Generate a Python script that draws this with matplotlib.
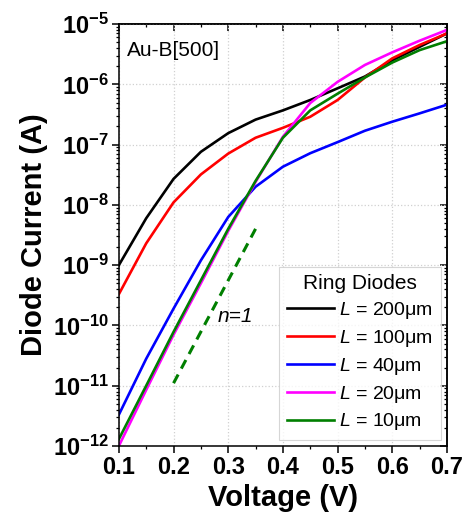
import numpy as np
import matplotlib
matplotlib.use('Agg')
import matplotlib.pyplot as plt
from matplotlib.ticker import FixedLocator, FixedFormatter, LogLocator, MultipleLocator, NullFormatter

plt.rcParams['font.family'] = ['Liberation Sans', 'DejaVu Sans']
plt.rcParams['mathtext.fontset'] = 'custom'
plt.rcParams['mathtext.rm'] = 'Liberation Sans'
plt.rcParams['mathtext.it'] = 'Liberation Sans:italic'
plt.rcParams['mathtext.bf'] = 'Liberation Sans:bold'

# Daten
voltage = [0.10, 0.15, 0.20, 0.25, 0.30, 0.35, 0.40, 0.45, 0.50, 0.55, 0.60, 0.65, 0.70]
i_200 = [1.0e-9, 6.0e-9, 2.7e-8, 7.6e-8, 1.55e-7, 2.6e-7, 3.7e-7, 5.5e-7, 8.6e-7, 1.35e-6, 2.5e-6, 4.2e-6, 7.0e-6]
i_100 = [3.3e-10, 2.3e-9, 1.1e-8, 3.2e-8, 7.1e-8, 1.3e-7, 1.9e-7, 2.9e-7, 5.5e-7, 1.3e-6, 2.7e-6, 4.5e-6, 7.0e-6]
i_40 = [3.3e-12, 2.8e-11, 1.9e-10, 1.2e-9, 6.3e-9, 2.0e-8, 4.3e-8, 7.2e-8, 1.1e-7, 1.7e-7, 2.4e-7, 3.3e-7, 4.6e-7]
i_20 = [1.0e-12, 8.5e-12, 7.0e-11, 5.0e-10, 3.7e-9, 2.4e-8, 1.35e-7, 4.9e-7, 1.1e-6, 2.1e-6, 3.4e-6, 5.3e-6, 8.0e-6]
i_10 = [1.3e-12, 1.0e-11, 7.8e-11, 5.6e-10, 4.0e-9, 2.5e-8, 1.3e-7, 3.7e-7, 7.0e-7, 1.3e-6, 2.3e-6, 3.7e-6, 5.2e-6]

labels = ['200', '100', '40', '20', '10']
colors = ['black', '#ff0000', '#0000ff', '#ff00ff', '#007f00']

# ideale Diode n=1
ideal_v = [0.20, 0.35]
ideal_i = [1.1e-11, 4.0e-9]

y_ticks = [1e-12, 1e-11, 1e-10, 1e-9, 1e-8, 1e-7, 1e-6, 1e-5]
y_ticklabels = [r'$\mathbf{10^{-%d}}$' % k for k in range(12, 4, -1)]
x_ticks = [0.1, 0.2, 0.3, 0.4, 0.5, 0.6, 0.7]

fig = plt.figure(figsize=(4.68, 5.24), dpi=100)
ax = fig.add_axes([0.254, 0.149, 0.701, 0.805])

for cur, lab, col in zip([i_200, i_100, i_40, i_20, i_10], labels, colors):
    ax.plot(voltage, cur, color=col, lw=1.9, label=r'$\it{L}$ = ' + lab + 'μm')

ax.plot(ideal_v, ideal_i, color='#007f00', lw=2.2, ls=(0, (3.2, 2.2)))
ax.text(0.28, 1.4e-10, 'n=1', style='italic', fontsize=15, va='center', ha='left')
ax.text(0.115, 3.6e-6, 'Au-B[500]', fontsize=15, va='center', ha='left')

ax.set_yscale('log')
ax.set_xlim(0.1, 0.7)
ax.set_ylim(1e-12, 1e-5)

ax.xaxis.set_major_locator(FixedLocator(x_ticks))
ax.xaxis.set_minor_locator(MultipleLocator(0.05))
ax.set_xticklabels(['%.1f' % v for v in x_ticks], fontsize=17, fontweight='bold')
ax.yaxis.set_major_locator(FixedLocator(y_ticks))
ax.yaxis.set_major_formatter(FixedFormatter(y_ticklabels))
ax.yaxis.set_minor_locator(LogLocator(base=10, subs=np.arange(2, 10), numticks=20))
ax.yaxis.set_minor_formatter(NullFormatter())
for t in ax.get_yticklabels():
    t.set_fontsize(17)

ax.tick_params(which='major', direction='out', length=5, width=1.1, pad=2)
ax.tick_params(which='minor', direction='out', length=2.5, width=0.9)

# Gegenueberliegende Achsen mit Ticks nach innen
top = ax.secondary_xaxis('top')
top.xaxis.set_major_locator(FixedLocator(x_ticks))
top.xaxis.set_minor_locator(MultipleLocator(0.05))
top.tick_params(which='major', direction='in', length=5, width=1.1, labeltop=False)
top.tick_params(which='minor', direction='in', length=2.5, width=0.9)
right = ax.secondary_yaxis('right')
right.yaxis.set_major_locator(FixedLocator(y_ticks))
right.yaxis.set_minor_locator(LogLocator(base=10, subs=np.arange(2, 10), numticks=20))
right.yaxis.set_minor_formatter(NullFormatter())
right.tick_params(which='major', direction='in', length=5, width=1.1, labelright=False)
right.tick_params(which='minor', direction='in', length=2.5, width=0.9)
for a in (ax, top, right):
    for s in a.spines.values():
        s.set_linewidth(1.1)

ax.grid(True, which='major', color='#d0d0d0', ls=':', lw=0.9)

ax.set_xlabel('Voltage (V)', fontsize=21, fontweight='bold', labelpad=4)
ax.set_ylabel('Diode Current (A)', fontsize=21, fontweight='bold', labelpad=4)

leg = ax.legend(loc='lower right', bbox_to_anchor=(1.0, 0.0), fontsize=14, title='Ring Diodes',
                title_fontsize=15, frameon=True, fancybox=False, edgecolor='#cccccc',
                handlelength=2.4, handletextpad=0.3, labelspacing=0.35, borderaxespad=0.3)
leg.get_frame().set_linewidth(0.8)

fig.savefig('out.png', dpi=100)
